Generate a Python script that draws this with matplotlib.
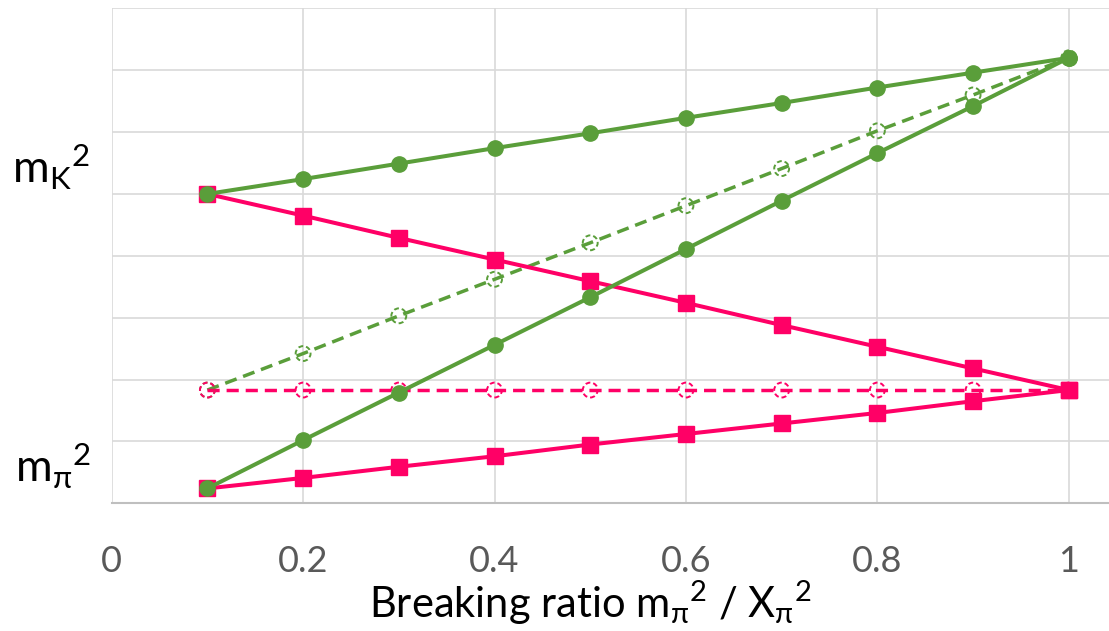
import matplotlib
matplotlib.use('Agg')
import matplotlib.pyplot as plt

plt.rcParams['font.family'] = ['Lato', 'DejaVu Sans']
plt.rcParams['mathtext.fontset'] = 'custom'
plt.rcParams['mathtext.rm'] = 'Lato'
plt.rcParams['mathtext.it'] = 'Lato'
plt.rcParams['mathtext.fallback'] = 'stixsans'

# --- Data ---
ratio = [0.1, 0.2, 0.3, 0.4, 0.5, 0.6, 0.7, 0.8, 0.9, 1.0]

kaon_flat = [5.00, 5.24, 5.49, 5.74, 5.98, 6.23, 6.47, 6.72, 6.96, 7.20]
kaon_steep = [0.24, 1.02, 1.79, 2.56, 3.33, 4.11, 4.89, 5.66, 6.42, 7.20]
kaon_ref = [1.83, 2.42, 3.03, 3.62, 4.21, 4.81, 5.41, 6.02, 6.60, 7.20]

pion_down = [5.00, 4.65, 4.29, 3.94, 3.59, 3.24, 2.88, 2.53, 2.18, 1.83]
pion_up = [0.24, 0.41, 0.59, 0.76, 0.95, 1.12, 1.29, 1.46, 1.65, 1.83]
pion_ref = [1.83, 1.83, 1.83, 1.83, 1.83, 1.83, 1.83, 1.83, 1.83, 1.83]

xticks = [0, 0.2, 0.4, 0.6, 0.8, 1.0]
xtick_labels = ['0', '0.2', '0.4', '0.6', '0.8', '1']

GREEN = '#5A9E3A'
PINK = '#FF0066'

fig = plt.figure(figsize=(11.09, 6.31), dpi=100)
ax = fig.add_axes([0.1007, 0.2024, 0.8993, 0.7844])

# Dashed reference lines with open dashed circles
for vals, col in [(kaon_ref, GREEN), (pion_ref, PINK)]:
    ax.plot(ratio, vals, color=col, lw=2.5, dashes=(3.5, 2.0), zorder=3)
    ax.scatter(ratio, vals, s=115, facecolors='none', edgecolors=col,
               linewidths=1.4, linestyles=(0, (2.5, 1.5)), zorder=4)

# Solid lines
ax.plot(ratio, pion_down, color=PINK, lw=2.9, marker='s', ms=12, zorder=5)
ax.plot(ratio, pion_up, color=PINK, lw=2.9, marker='s', ms=12, zorder=5)
ax.plot(ratio, kaon_flat, color=GREEN, lw=2.9, marker='o', ms=11, zorder=6)
ax.plot(ratio, kaon_steep, color=GREEN, lw=2.9, marker='o', ms=11, zorder=6)

ax.set_xlim(0, 1.042)
ax.set_ylim(0, 8)
ax.set_xticks(xticks)
ax.set_xticklabels(xtick_labels)
ax.set_yticks(range(0, 9))
ax.set_yticklabels([])
ax.grid(True, color='#D9D9D9', lw=1.2)
ax.set_axisbelow(True)
for side in ['top', 'right', 'left']:
    ax.spines[side].set_visible(False)
ax.spines['bottom'].set_color('#BFBFBF')
ax.spines['bottom'].set_linewidth(1.5)
ax.tick_params(axis='both', length=0)
ax.tick_params(axis='x', labelsize=26, labelcolor='#595959', pad=30)

ax.set_xlabel(r'Breaking ratio $\mathregular{m_\pi{}^2}$ / $\mathregular{X_\pi{}^2}$',
              fontsize=30)
ax.xaxis.set_label_coords(0.4796, -0.232)
ax.xaxis.label.set_va('baseline')

# Mass labels on the left
ax.text(-0.104, 5.18, r'$\mathregular{m_K{}^2}$', fontsize=32,
        ha='left', va='baseline', clip_on=False)
ax.text(-0.101, 0.34, r'$\mathregular{m_\pi{}^2}$', fontsize=32,
        ha='left', va='baseline', clip_on=False)

fig.savefig('out.png', dpi=100)
